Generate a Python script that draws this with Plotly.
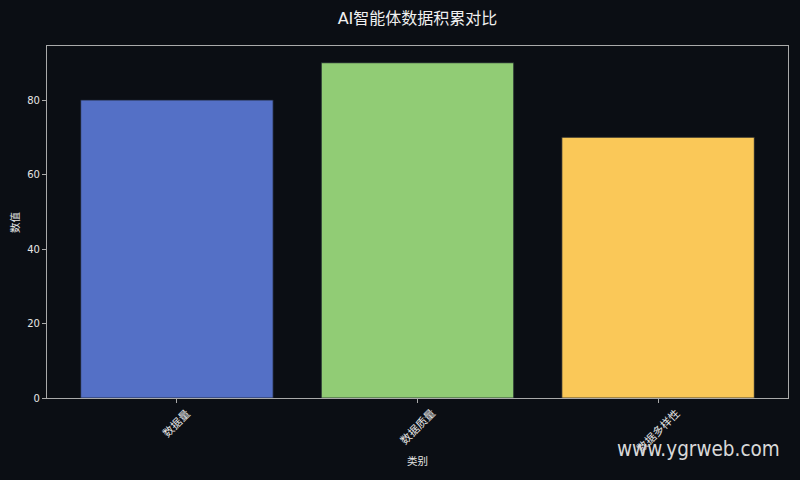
import plotly.graph_objects as go

# data
categories = ["数据量", "数据质量", "数据多样性"]
values = [80, 90, 70]
bar_colors = ["#5470c6", "#91cc75", "#fac858"]
y_ticks = [0, 20, 40, 60, 80]

bg = "#0b0e14"
fnt = "DejaVu Sans, Noto Sans CJK SC"

# plot area in pixels (from the reference)
L, R, T, B = 47, 788, 46, 398


def px(x):
    return (x - L) / (R - L)


def py(y):
    return (B - y) / (B - T)


fig = go.Figure()
fig.add_trace(go.Bar(
    x=list(range(len(categories))), y=values,
    width=0.8,
    marker=dict(color=bar_colors, line=dict(color="#1a1f2a", width=0.8)),
    hoverinfo="skip",
))

# rotated category labels, centred under each tick like matplotlib
for i, c in enumerate(categories):
    fig.add_annotation(x=i, y=0, xref="x", yref="paper", text=c,
                       textangle=-45, showarrow=False,
                       xanchor="center", yanchor="top", yshift=-6,
                       font=dict(family=fnt, size=11, color="#e6e6e6"))

fig.add_annotation(x=px(417.5), y=py(461), xref="paper", yref="paper",
                   text="类别", showarrow=False, xanchor="center", yanchor="middle",
                   font=dict(family=fnt, size=10.5, color="#e6e6e6"))
fig.add_annotation(x=px(15), y=py(222), xref="paper", yref="paper",
                   text="数值", textangle=-90, showarrow=False,
                   xanchor="center", yanchor="middle",
                   font=dict(family=fnt, size=10.5, color="#e6e6e6"))
# watermark
fig.add_annotation(x=px(782), y=py(449), xref="paper", yref="paper",
                   text="www.ygrweb.com", showarrow=False,
                   xanchor="right", yanchor="middle",
                   font=dict(family="Liberation Sans Narrow, DejaVu Sans Condensed, Liberation Sans",
                             size=20.5, color="#d8d8d8"))

fig.update_layout(
    width=800, height=480,
    paper_bgcolor=bg, plot_bgcolor=bg,
    margin=dict(l=L, r=800 - R, t=T, b=480 - B),
    showlegend=False,
    title=dict(text="AI智能体数据积累对比", x=0.5, xref="paper",
               y=1 - 18 / 480, yref="container", yanchor="middle",
               font=dict(family=fnt, size=16, color="#f0f0f0")),
    xaxis=dict(range=[-0.54, 2.54], tickvals=list(range(len(categories))),
               ticktext=["", "", ""], ticks="outside", ticklen=4,
               tickcolor="#aaaaaa", showgrid=False, zeroline=False,
               showline=True, linecolor="#aaaaaa", linewidth=1.2, mirror=True),
    yaxis=dict(range=[0, 94.5], tickvals=y_ticks, ticks="outside", ticklen=4,
               tickcolor="#aaaaaa", showgrid=False, zeroline=False,
               showline=True, linecolor="#aaaaaa", linewidth=1.2, mirror=True,
               tickfont=dict(family=fnt, size=10, color="#e6e6e6")),
)

fig.write_html("out.html", config={"displayModeBar": False},
               post_script="document.body.style.margin='0';")
